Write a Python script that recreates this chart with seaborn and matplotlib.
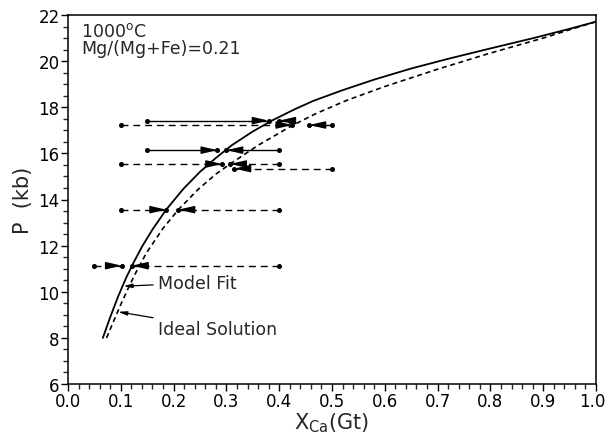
import matplotlib
matplotlib.use("Agg")
import matplotlib.pyplot as plt
import matplotlib.transforms as mtransforms
import seaborn as sns
import pandas as pd
from matplotlib.ticker import MultipleLocator

# ---- data ----
model_x = [0.066, 0.080, 0.095, 0.110, 0.125, 0.140, 0.160, 0.186, 0.218, 0.250, 0.280, 0.310, 0.350, 0.386, 0.430, 0.465, 0.520, 0.580, 0.650, 0.720, 0.800, 0.880, 0.950, 1.000]
model_p = [8.00, 8.90, 9.80, 10.60, 11.30, 11.95, 12.70, 13.56, 14.45, 15.20, 15.80, 16.35, 16.95, 17.42, 17.92, 18.28, 18.74, 19.20, 19.68, 20.10, 20.55, 20.99, 21.40, 21.71]

ideal_x = [0.073, 0.085, 0.100, 0.115, 0.130, 0.149, 0.180, 0.209, 0.247, 0.280, 0.307, 0.360, 0.424, 0.470, 0.528, 0.600, 0.700, 0.800, 0.900, 0.950, 1.000]
ideal_p = [8.00, 8.65, 9.45, 10.20, 10.90, 11.70, 12.75, 13.56, 14.45, 15.10, 15.54, 16.35, 17.20, 17.73, 18.30, 18.90, 19.65, 20.35, 21.00, 21.36, 21.71]

# reversal brackets: start X, end X (arrow tip), pressure, line style
arrow_start = [0.15, 0.42, 0.10, 0.50, 0.15, 0.40, 0.10, 0.40, 0.50, 0.10, 0.40, 0.049, 0.40]
arrow_end   = [0.380, 0.400, 0.425, 0.457, 0.283, 0.300, 0.292, 0.307, 0.315, 0.186, 0.209, 0.102, 0.121]
arrow_p     = [17.42, 17.42, 17.23, 17.23, 16.14, 16.14, 15.54, 15.54, 15.34, 13.56, 13.56, 11.13, 11.13]
arrow_style = ["solid", "solid", "dashed", "dashed", "solid", "solid", "dashed", "dashed", "dashed", "dashed", "dashed", "dashed", "dashed"]

x_ticks = [0.0, 0.1, 0.2, 0.3, 0.4, 0.5, 0.6, 0.7, 0.8, 0.9, 1.0]
y_ticks = [6, 8, 10, 12, 14, 16, 18, 20, 22]

sns.set_style("white")
plt.rcParams["font.family"] = ["DejaVu Sans"]
plt.rcParams["mathtext.fontset"] = "dejavusans"

fig = plt.figure(figsize=(6.08, 4.35), dpi=100)
ax = fig.add_axes([68 / 608, (435 - 385) / 435, 528 / 608, 369 / 435])

model_df = pd.DataFrame({"X": model_x, "P": model_p})
ideal_df = pd.DataFrame({"X": ideal_x, "P": ideal_p})
sns.lineplot(data=model_df, x="X", y="P", ax=ax, color="black", lw=1.3,
             sort=False, estimator=None)
sns.lineplot(data=ideal_df, x="X", y="P", ax=ax, color="black", lw=1.2,
             sort=False, estimator=None)
ax.lines[-1].set_dashes([3, 2.2])

for xs, xe, p, st in zip(arrow_start, arrow_end, arrow_p, arrow_style):
    ls = "-" if st == "solid" else (0, (5, 3.5))
    ax.plot([xs, xe], [p, p], color="black", lw=1.0, linestyle=ls)
    ax.plot([xs, xe], [p, p], linestyle="none", marker="o", ms=2.6, color="black")
    d = 0.03 if xe > xs else -0.03
    ax.annotate("", xy=(xe, p), xytext=(xe - d, p),
                arrowprops=dict(arrowstyle="-|>,head_length=0.95,head_width=0.22",
                                mutation_scale=10, color="black", lw=1.0,
                                shrinkA=0, shrinkB=0))

# labels for curves
ax.annotate("Model Fit", xy=(0.105, 10.24), xytext=(0.170, 10.38),
            fontsize=12.5, va="center", ha="left",
            arrowprops=dict(arrowstyle="-|>,head_length=0.5,head_width=0.12",
                            mutation_scale=10, color="black", lw=0.9,
                            shrinkA=1, shrinkB=0))
ax.annotate("Ideal Solution", xy=(0.095, 9.13), xytext=(0.170, 8.40),
            fontsize=12.5, va="center", ha="left",
            arrowprops=dict(arrowstyle="-|>,head_length=0.5,head_width=0.12",
                            mutation_scale=10, color="black", lw=0.9,
                            shrinkA=1, shrinkB=0))

ax.text(0.025, 21.32, r"1000$^{\mathrm{o}}$C", fontsize=12.5, va="center", ha="left")
ax.text(0.025, 20.57, "Mg/(Mg+Fe)=0.21", fontsize=12.5, va="center", ha="left")

ax.set_xlim(0, 1.0)
ax.set_ylim(6, 22)
ax.set_xticks(x_ticks)
ax.set_xticklabels([f"{v:.1f}" for v in x_ticks])
ax.set_yticks(y_ticks)
ax.set_yticklabels([str(v) for v in y_ticks])
ax.xaxis.set_minor_locator(MultipleLocator(0.02))
ax.yaxis.set_minor_locator(MultipleLocator(0.5))
ax.tick_params(axis="both", which="major", direction="out", length=5, width=1.0,
               labelsize=12, pad=1, colors="black", bottom=True, left=True)
ax.tick_params(axis="both", which="minor", direction="out", length=3.5, width=1.0,
               bottom=True, left=True)
# keep the last x label inside the canvas
last = ax.get_xticklabels()[-1]
last.set_transform(last.get_transform() +
                   mtransforms.ScaledTranslation(-4 / 100, 0, fig.dpi_scale_trans))
ax.set_xlabel(r"X$_{\mathrm{Ca}}$(Gt)", fontsize=15, labelpad=0)
ax.set_ylabel("P  (kb)", fontsize=15, labelpad=4)
for s in ax.spines.values():
    s.set_color("black")
    s.set_linewidth(1.1)

fig.savefig("out.png", dpi=100)
